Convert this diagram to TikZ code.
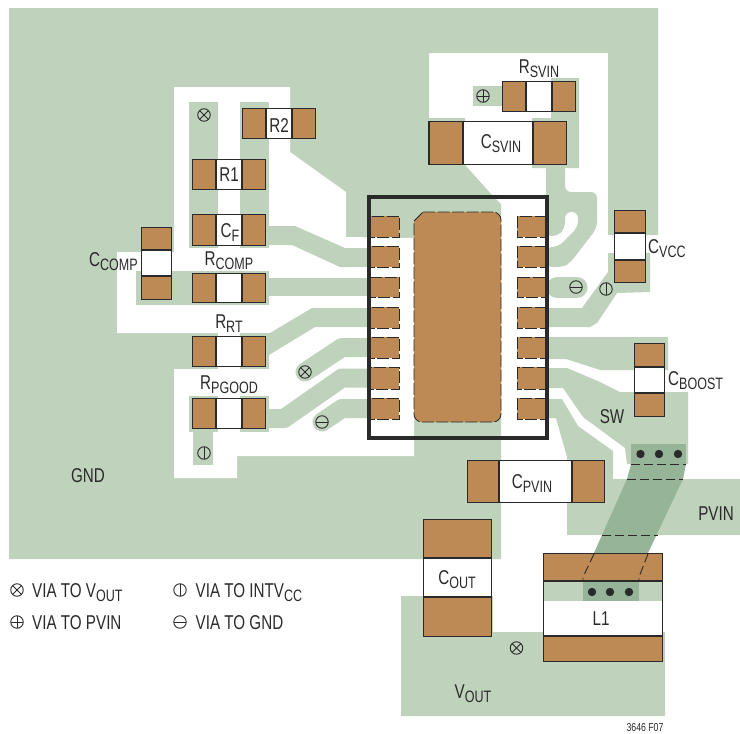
\documentclass[tikz,border=0pt]{standalone}
\usepackage{fontspec}
\setmainfont[FakeStretch=0.76]{Liberation Sans}
\usetikzlibrary{positioning}
\definecolor{board}{HTML}{BFD2BC}
\definecolor{viastrip}{HTML}{96B497}
\definecolor{copper}{HTML}{BD8A55}
\definecolor{ink}{HTML}{2B2A2B}
\newcommand{\lsub}[2]{#1{\fontsize{16.5}{16.5}\selectfont\raisebox{-4.5pt}{#2}}}
\tikzset{
    trace/.style={fill=board},
    wire/.style={draw=board,line width=19pt,line cap=round,line join=round},
    part/.style={fill=white,draw=ink,line width=0.9pt},
    pad/.style={fill=copper,draw=ink,line width=1.3pt},
    icpad/.style={fill=copper,draw=ink,line width=0.8pt,dash pattern=on 12pt off 2.5pt},
    lbl/.style={anchor=base,inner sep=0pt,text=ink,font=\fontsize{20}{20}\selectfont},
    via/.style={circle,draw=ink,line width=0.9pt,minimum size=12.5pt,inner sep=0pt},
    viaout/.style={via,path picture={\draw[ink,line width=0.9pt]
        (path picture bounding box.north west) -- (path picture bounding box.south east)
        (path picture bounding box.north east) -- (path picture bounding box.south west);}},
    viapvin/.style={via,path picture={\draw[ink,line width=0.9pt]
        (path picture bounding box.north) -- (path picture bounding box.south)
        (path picture bounding box.east) -- (path picture bounding box.west);}},
    viaintv/.style={via,path picture={\draw[ink,line width=0.9pt]
        (path picture bounding box.north) -- (path picture bounding box.south);}},
    viagnd/.style={via,path picture={\draw[ink,line width=0.9pt]
        (path picture bounding box.east) -- (path picture bounding box.west);}},
}
\begin{document}
\begin{tikzpicture}[x=1pt,y=-1pt]
    \useasboundingbox (0,0) rectangle (740,734);
    \fill[trace] (9,8) -- (658,8) -- (658,235) -- (608,235) -- (608,53) -- (429,53) -- (429,118)
        -- (465,118) -- (465,165) -- (492,195) -- (501,204) -- (501,559) -- (9,559) -- cycle;
    \fill[white] (174,87) -- (290,87) -- (290,152) -- (346,192) -- (346,237) -- (414,238)
        -- (414,456) -- (237,456) -- (237,478) -- (174,478) -- (174,369) -- (218,369) -- (218,333)
        -- (117,333) -- (117,252) -- (174,252) -- cycle;
    \fill[trace] (189,102) rectangle (218,248);
    \fill[trace] (240,102) rectangle (269,248);
    \fill[trace] (136,271) rectangle (269,305);
    \fill[trace] (240,333) rectangle (269,369);
    \fill[trace] (189,396) rectangle (218,432);
    \fill[trace] (240,396) rectangle (269,432);
    \fill[trace] (193,430) rectangle (213,465);
    \fill[trace] (269,226) -- (295,226) -- (345,248) -- (372,248) -- (372,267) -- (340,267) -- (292,245) -- (269,245) -- cycle;
    \fill[trace] (269,278) rectangle (372,296);
    \fill[trace] (269,333) -- (270,333) -- (312,308) -- (372,308) -- (372,327) -- (315,327) -- (269,355) -- cycle;
    \draw[wire] (305,372) -- (342,347.5) -- (368,347.5);
    \draw[wire,line cap=butt] (269,418.5) -- (284,418.5) -- (342,378) -- (372,378);
    \draw[wire] (322,422) -- (342,408.5) -- (368,408.5);
    \fill[trace] (473,86) rectangle (502,106);
    \fill[trace] (551,78) -- (579,78) -- (579,168) -- (532,168) -- (532,118) -- (551,118) -- cycle;
    \fill[trace,rounded corners=6pt] (546,160) -- (565,160) -- (565,192) -- (597,192) -- (597,228) -- (570,263)
        -- (563,267) -- (546,267) -- (546,247) -- (558,247) -- (578,227) -- (578,212) -- (565,212)
        -- (565,228) -- (558,236) -- (546,236) -- cycle;
    \draw[wire,line width=21pt] (557,287.5) -- (577,287.5);
    \fill[trace] (546,308) -- (582,308) -- (608,272) -- (608,253) -- (650,253) -- (650,292) -- (617,293)
        -- (597,323) -- (590,327) -- (546,327) -- cycle;
    \fill[trace] (546,337) -- (668,337) -- (668,370) -- (600,370) -- (566,359) -- (546,359) -- cycle;
    \fill[trace] (546,368) -- (567,368) -- (600,382) -- (620,392) -- (688,392) -- (688,464) -- (627,464)
        -- (625,448) -- (583,417) -- (563,388) -- (546,388) -- cycle;
    \fill[trace] (546,399) -- (562,399) -- (578,426) -- (613,451) -- (613,479) -- (740,479) -- (740,535)
        -- (567,535) -- (567,457) -- (556,418) -- (546,418) -- cycle;
    \fill[trace] (401,596) -- (493,596) -- (493,632) -- (665,632) -- (665,716) -- (401,716) -- cycle;
    \fill[viastrip] (631,444) rectangle (686,464);
    \fill[viastrip] (631,464) -- (686,464) -- (683,479) -- (648,553) -- (594,553) -- (627,479) -- cycle;
    \foreach \xa/\xb/\xc/\xd/\ya/\yb in {192.5/216/242/265.5/159.5/189.5,192.5/216/242/265.5/214.5/245.5,192.5/216/242/265.5/273.5/302.5,
        192.5/216/242/265.5/336.5/366.5,192.5/216/242/265.5/398.5/428.5,242.5/266/292/315.5/108.5/138.5,502.5/526/552/575.5/81.5/111.5,
        429/463/533/566.5/121.5/164.5,467.5/499/572/604.5/460.5/502.5}
        {
        \draw[part] (\xa,\ya) rectangle (\xd,\yb);
        \draw[pad] (\xa,\ya) rectangle (\xb,\yb);
        \draw[pad] (\xc,\ya) rectangle (\xd,\yb);
    }
    \foreach \xa/\xb/\ya/\yb/\yc/\yd in {141.5/171.5/227.5/250/276/299.5,614.5/645.5/210.5/233/260/282.5,
        634.5/664.5/343.5/367/393/416.5,423.5/491.5/519.5/558/597/636.5}
        {
        \draw[part] (\xa,\ya) rectangle (\xb,\yd);
        \draw[pad] (\xa,\ya) rectangle (\xb,\yb);
        \draw[pad] (\xa,\yc) rectangle (\xb,\yd);
    }
    \draw[part] (543.5,553.5) rectangle (662.5,661.5);
    \fill[trace] (544,581) rectangle (662,601);
    \fill[viastrip] (583,581) rectangle (639,601);
    \draw[pad] (543.5,553.5) rectangle (662.5,581);
    \draw[pad] (543.5,636) rectangle (662.5,661.5);
    \foreach \x in {640.5,659,678}
        \fill[ink] (\x,454) circle (4.2pt);
    \foreach \x in {592,610,629}
        \fill[ink] (\x,592) circle (4.2pt);
    \draw[ink,line width=0.9pt,dash pattern=on 9pt off 4pt] (631,464.5) -- (686,464.5);
    \draw[ink,line width=0.9pt,dash pattern=on 9pt off 4pt] (627,479) -- (683,479);
    \draw[ink,line width=0.9pt,dash pattern=on 9pt off 4pt] (602,535) -- (658,535);
    \draw[ink,line width=0.9pt,dash pattern=on 9pt off 4pt] (594,554) -- (583,577) -- (583,581);
    \draw[ink,line width=0.9pt,dash pattern=on 9pt off 4pt] (648,554) -- (639,577) -- (639,581);
    \foreach \y/\yy in {216/237,246/267,277/297,307/328,337/358,367/389,398/419}
        {
        \draw[icpad] (369,\y) rectangle (399,\yy);
        \draw[icpad] (517,\y) rectangle (547,\yy);
    }
    \draw[icpad,fill=copper] (423,212) [rounded corners=8pt] -- (501,212) -- (501,422) -- (414,422) [sharp corners] -- (414,221) -- cycle;
    \draw[ink,line width=4pt] (369,197) rectangle (547,438);
    \node[viaout] (via1) at (204,115) {};
    \node[viaout] (via2) at (305,372) {};
    \node[viagnd] (via3) at (322,422) {};
    \node[viaintv] (via4) at (204,453) {};
    \node[viapvin] (via5) at (483,96) {};
    \node[viagnd] (via6) at (576,287) {};
    \node[viaintv] (via7) at (606,289) {};
    \node[viaout] (via8) at (516.5,648) {};
    \node[viaout] (legendout) at (17,590) {};
    \node[viapvin] (legendpvin) at (17,622) {};
    \node[viaintv] (legendintv) at (180,590) {};
    \node[viagnd] (legendgnd) at (180,622) {};
    \node[lbl] (rsvin) at (539,73) {\lsub{R}{SVIN}};
    \node[lbl] (csvin) at (501,148) {\lsub{C}{SVIN}};
    \node[lbl] (rtwo) at (279,132) {R2};
    \node[lbl] (rone) at (229,181) {R1};
    \node[lbl] (cf) at (230,237) {\lsub{C}{F}};
    \node[lbl] (rcomp) at (229,265) {\lsub{R}{COMP}};
    \node[lbl,anchor=base east] (ccomp) at (138,266) {\lsub{C}{COMP}};
    \node[lbl] (rrt) at (229,328) {\lsub{R}{RT}};
    \node[lbl] (rpgood) at (229,389) {\lsub{R}{PGOOD}};
    \node[lbl,anchor=base west] (cvcc) at (648,253) {\lsub{C}{VCC}};
    \node[lbl,anchor=base west] (cboost) at (668,385) {\lsub{C}{BOOST}};
    \node[lbl] (sw) at (612,423) {SW};
    \node[lbl] (pvin) at (716,520) {PVIN};
    \node[lbl] (cpvin) at (532,488) {\lsub{C}{PVIN}};
    \node[lbl] (cout) at (457,584) {\lsub{C}{OUT}};
    \node[lbl] (lone) at (601,625) {L1};
    \node[lbl] (vout) at (473,698) {\lsub{V}{OUT}};
    \node[lbl] (gnd) at (88,482) {GND};
    \node[lbl,anchor=base west] (legtextout) at (32,597) {VIA TO \lsub{V}{OUT}};
    \node[lbl,anchor=base west] (legtextpvin) at (32,629) {VIA TO PVIN};
    \node[lbl,anchor=base west] (legtextintv) at (195.5,597) {VIA TO \lsub{INTV}{CC}};
    \node[lbl,anchor=base west] (legtextgnd) at (195.5,629) {VIA TO GND};
    \node[lbl,font=\fontsize{11.5}{11.5}\selectfont] (figno) at (645,731) {3646 F07};
\end{tikzpicture}
\end{document}
